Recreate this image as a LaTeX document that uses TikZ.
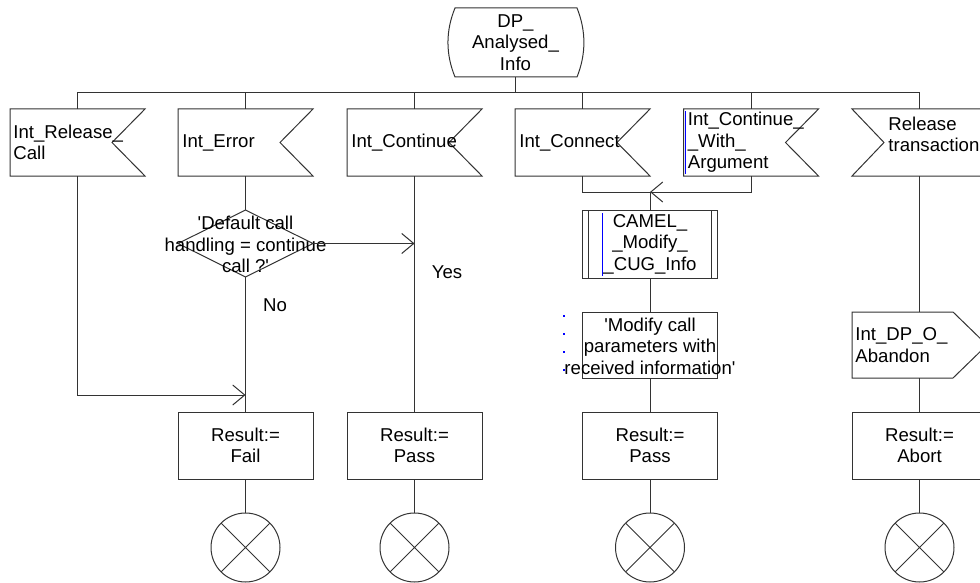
\documentclass[tikz,border=0pt]{standalone}
\usepackage{fontspec}
\setmainfont{Liberation Sans}
\usetikzlibrary{arrows.meta,calc}
\newcommand\inputsym[1]{\draw[line] (#1.north west) -- (#1.north east) -- ([xshift=-16.5pt]#1.east) -- (#1.south east) -- (#1.south west) -- cycle;}
\newcommand\stopcross[1]{\draw[line] (#1.north west) -- (#1.south east) (#1.north east) -- (#1.south west);}
\begin{document}
\begin{tikzpicture}[x=0.5pt,y=-0.5pt,
  line/.style={draw=black!80, line width=0.5pt},
  shp/.style={minimum width=67.5pt, minimum height=33.5pt, inner sep=0pt, outer sep=0pt},
  boxshape/.style={shp, line},
  txt/.style={font=\fontsize{9.3}{10.7}\selectfont, inner sep=0pt, align=left},
  ctxt/.style={txt, align=center},
  endc/.style={circle, line, minimum size=34.5pt, inner sep=0pt, outer sep=0pt},
  arr/.style={line, -{Straight Barb[length=6pt,width=10pt]}},
  blueline/.style={draw=blue, line width=0.7pt},
]
\useasboundingbox (0,0) rectangle (980,583);
\clip (0,0) rectangle (980,583);

% start symbol
\node[shp, minimum height=34.5pt] (start) at (515.5,42.5) {};
\draw[line] ([xshift=3.5pt]start.north west) -- ([xshift=-3pt]start.north east)
  .. controls ([xshift=1.6pt,yshift=5.75pt]start.east) and ([xshift=1.6pt,yshift=-5.75pt]start.east) .. ([xshift=-3pt]start.south east)
  -- ([xshift=3.5pt]start.south west)
  .. controls ([xshift=-1.2pt,yshift=-5.75pt]start.west) and ([xshift=-1.2pt,yshift=5.75pt]start.west) .. ([xshift=3.5pt]start.north west) -- cycle;
\node[ctxt] (startt) at (start) {DP\_\\Analysed\_\\Info};

% input symbols
\node[shp] (rc) at (77.5,142.5) {};
\node[shp] (err) at (245.5,142.5) {};
\node[shp] (cont) at (414.5,142.5) {};
\node[shp] (con) at (582.5,142.5) {};
\node[shp] (cwa) at (751,142.5) {};
\node[shp] (rt) at (919.5,142.5) {};
\inputsym{rc}
\inputsym{err}
\inputsym{cont}
\inputsym{con}
\inputsym{cwa}
\draw[line] (rt.north west) -- (rt.north east) -- (rt.south east) -- (rt.south west) -- ([xshift=16pt]rt.west) -- cycle;
\draw[blueline] ([xshift=1pt,yshift=-1pt]cwa.north west) -- ([xshift=1pt,yshift=1pt]cwa.south west);

\node[txt, anchor=west] (rct) at ([xshift=1.5pt]rc.west) {Int\_Release\_\\Call};
\node[txt, anchor=west] (errt) at ([xshift=2pt]err.west) {Int\_Error};
\node[txt, anchor=west] (contt) at ([xshift=2pt]cont.west) {Int\_Continue};
\node[txt, anchor=west] (cont2) at ([xshift=2pt]con.west) {Int\_Connect};
\node[txt, anchor=west] (cwat) at ([xshift=2pt]cwa.west) {Int\_Continue\_\\\_With\_\\Argument};
\node[txt, anchor=west] (rtt) at ([xshift=18pt,yshift=4pt]rt.west) {Release\\transaction};

% bus
\coordinate (bus) at (0,93);
\draw[line] (start.south) -- (start.south |- bus);
\draw[line] (rc.north) |- (bus -| rt.north) -- (rt.north);
\foreach \n in {err,cont,con,cwa} {\draw[line] (\n.north) -- (\n.north |- bus);}

% decision
\node[shp] (dec) at (245.5,243.5) {};
\draw[line] (dec.north) -- (dec.east) -- (dec.south) -- (dec.west) -- cycle;
\node[ctxt] (dect) at ([yshift=-0.5pt]dec.center) {\textquotesingle Default call\\handling = continue\\call ?\textquotesingle};
\node[txt] (yes) at (447,272) {Yes};
\node[txt] (no) at (275,305) {No};

% procedure call
\node[boxshape, minimum height=34pt] (camel) at (650,244) {};
\draw[line] ([xshift=3pt]camel.north west) -- ([xshift=3pt]camel.south west);
\draw[line] ([xshift=-3pt]camel.north east) -- ([xshift=-3pt]camel.south east);
\draw[blueline] ([xshift=10pt,yshift=-1.5pt]camel.north west) -- ([xshift=10pt,yshift=1pt]camel.south west);
\node[ctxt] (camelt) at (camel) {CAMEL\_\\\_Modify\_\\\_CUG\_Info};

% task
\node[boxshape, minimum height=33pt] (mod) at (650,345) {};
\node[ctxt] (modt) at ([yshift=-0.5pt]mod.center) {\textquotesingle Modify call\\parameters with\\received information\textquotesingle};
\foreach \yy in {316,334,352,370} {\fill[blue] (563,\yy-1) rectangle (565,\yy+1);}

% output
\node[shp, minimum height=33pt] (ab) at (919.5,345) {};
\draw[line] (ab.north west) -- ([xshift=-17pt]ab.north east) -- (ab.east) -- ([xshift=-17pt]ab.south east) -- (ab.south west) -- cycle;
\node[txt, anchor=west] (abt) at ([xshift=1.5pt]ab.west) {Int\_DP\_O\_\\Abandon};

% result tasks
\node[boxshape] (fail) at (245.5,445.5) {};
\node[boxshape] (pass1) at (414.5,445.5) {};
\node[boxshape] (pass2) at (650,445.5) {};
\node[boxshape] (abort) at (919.5,445.5) {};
\node[ctxt] (failt) at (fail) {Result:=\\Fail};
\node[ctxt] (pass1t) at (pass1) {Result:=\\Pass};
\node[ctxt] (pass2t) at (pass2) {Result:=\\Pass};
\node[ctxt] (abortt) at (abort) {Result:=\\Abort};

% stops
\node[endc] (e1) at (245.5,547.5) {};
\node[endc] (e2) at (414.5,547.5) {};
\node[endc] (e3) at (650,547.5) {};
\node[endc] (e4) at (919.5,547.5) {};
\stopcross{e1}
\stopcross{e2}
\stopcross{e3}
\stopcross{e4}

% connectors
\draw[line] (err.south) -- (dec.north);
\draw[line] (dec.south) -- (fail.north);
\draw[arr] (dec.east) -- (dec.east -| cont.south);
\draw[line] (cont.south) -- (pass1.north);
\coordinate (j1) at (245.5,395);
\draw[arr] (rc.south) |- (j1);
\coordinate (merge) at (650,192);
\draw[line] (con.south) |- (merge);
\draw[arr] (cwa.south) |- (merge);
\draw[line] (merge) -- (camel.north);
\draw[line] (camel.south) -- (mod.north);
\draw[line] (mod.south) -- (pass2.north);
\draw[line] (rt.south) -- (ab.north);
\draw[line] (ab.south) -- (abort.north);
\draw[line] (fail.south) -- (e1.north);
\draw[line] (pass1.south) -- (e2.north);
\draw[line] (pass2.south) -- (e3.north);
\draw[line] (abort.south) -- (e4.north);
\end{tikzpicture}
\end{document}
